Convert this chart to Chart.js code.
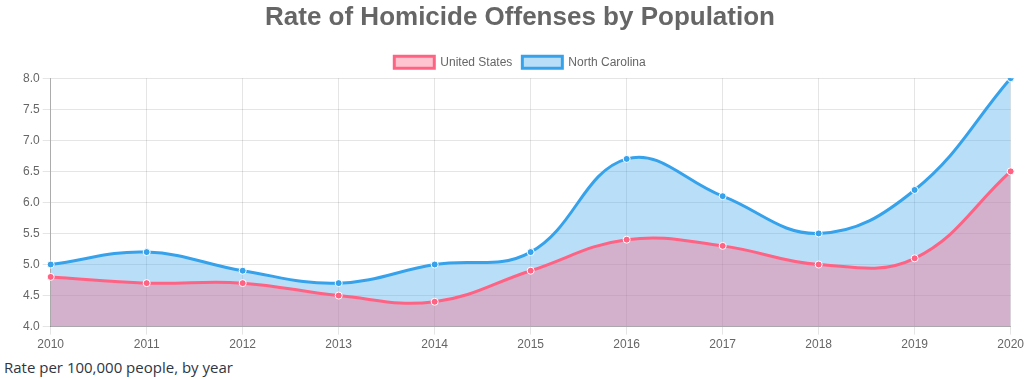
<!DOCTYPE html>
<html><head><meta charset="utf-8">
<script src="https://cdn.jsdelivr.net/npm/chart.js@4"></script>
<style>
html,body{margin:0;padding:0;background:#fff;}
#wrap{position:relative;width:1027px;height:355px;}
#cap{font-family:"Open Sans",sans-serif;font-size:15px;color:#2f3542;margin:2px 0 0 4px;}
</style></head><body>
<div id="wrap"><canvas id="c"></canvas></div>
<div id="cap">Rate per 100,000 people, by year</div>
<script>
const years = ["2010","2011","2012","2013","2014","2015","2016","2017","2018","2019","2020"];
const usRates = [4.8,4.7,4.7,4.5,4.4,4.9,5.4,5.3,5.0,5.1,6.5];
const ncRates = [5.0,5.2,4.9,4.7,5.0,5.2,6.7,6.1,5.5,6.2,8.0];
const seriesNames = ["United States","North Carolina"];

new Chart(document.getElementById('c'), {
  type: 'line',
  data: {
    labels: years,
    datasets: [
      {label: seriesNames[0], data: usRates, borderColor:'rgb(255,99,132)', backgroundColor:'rgba(255,99,132,0.38)', fill:'origin', tension:0.4, borderWidth:3, pointRadius:3.5, pointBorderColor:'#fff', pointBackgroundColor:'rgb(255,99,132)', pointBorderWidth:1},
      {label: seriesNames[1], data: ncRates, borderColor:'rgb(54,162,235)', backgroundColor:'rgba(54,162,235,0.35)', fill:'origin', tension:0.4, borderWidth:3, pointRadius:3.5, pointBorderColor:'#fff', pointBackgroundColor:'rgb(54,162,235)', pointBorderWidth:1}
    ]
  },
  options: {
    responsive:true, maintainAspectRatio:false, animation:false,
    layout:{padding:{left:20, right:7}},
    plugins:{
      title:{display:true, text:'Rate of Homicide Offenses by Population', color:'#666', font:{size:26, weight:'bold'}, padding:{top:2,bottom:13}},
      legend:{labels:{color:'#666', font:{size:12}, boxWidth:40}}
    },
    scales:{
      x:{grid:{color:'rgba(0,0,0,0.1)'}, ticks:{color:'#666', font:{size:12}}, border:{color:'rgba(0,0,0,0.25)'}},
      y:{min:4, max:8, ticks:{stepSize:0.5, color:'#666', font:{size:12}, callback:v=>v.toFixed(1)}, grid:{color:'rgba(0,0,0,0.1)'}, border:{color:'rgba(0,0,0,0.25)'}}
    }
  }
});
</script></body></html>
